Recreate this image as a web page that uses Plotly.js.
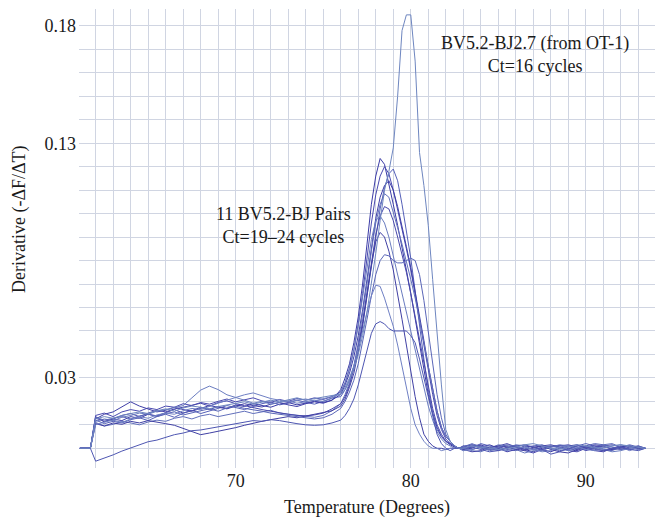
<!DOCTYPE html>
<html>
<head>
<meta charset="utf-8">
<script src="https://cdn.plot.ly/plotly-3.0.1.min.js"></script>
<style>html,body{margin:0;padding:0;background:#fff;}#chart{width:656px;height:518px;}</style>
</head>
<body>
<div id="chart"></div>
<script>
// Temperature samples (degrees)
const temps = [61.1, 61.7,
  62, 62.5, 63, 63.5, 64, 64.5, 65, 65.5, 66, 66.5, 67, 67.5, 68, 68.5, 69, 69.5,
  70, 70.5, 71, 71.5, 72, 72.5, 73, 73.5, 74, 74.5, 75, 75.5,
  76, 76.25, 76.5, 76.75, 77, 77.25, 77.5, 77.75, 78, 78.25, 78.5, 78.75,
  79, 79.25, 79.5, 79.75, 80, 80.25, 80.5, 80.75, 81, 81.25, 81.5, 81.75,
  82, 82.25, 82.5, 82.75,
  83, 83.5, 84, 84.5, 85, 85.5, 86, 86.5, 87, 87.5, 88, 88.5, 89, 89.5,
  90, 90.5, 91, 91.5, 92, 92.5, 93, 93.4];

// 11 BV5.2-BJ pairs
const pairA = [0, 0,
  0.0135, 0.0112, 0.0125, 0.0118, 0.0135, 0.0128, 0.0145, 0.0138, 0.0152, 0.0165, 0.0150, 0.0160, 0.0175, 0.0165, 0.0178, 0.0170, 0.0185, 0.0178, 0.0190, 0.0182, 0.0175, 0.0188, 0.0195, 0.0185, 0.0192, 0.0200, 0.0195, 0.0205,
  0.025, 0.030, 0.036, 0.045, 0.056, 0.070, 0.087, 0.104, 0.116, 0.1235, 0.121, 0.113, 0.104, 0.095, 0.086, 0.076, 0.066, 0.055, 0.044, 0.033, 0.023, 0.015, 0.009, 0.005, 0.003, 0.0015, 0.0005, 0.000,
  0.000, 0.001, 0.0015, 0.000, -0.001, 0.0005, 0.001, -0.0005, -0.0015, 0.000, 0.0008, 0.0012, 0.000, -0.001, 0.0005, 0.0015, 0.001, -0.0005, 0.000, 0.001, 0.0005, 0.000];
const pairB = [0, 0,
  0.0140, 0.0150, 0.0135, 0.0155, 0.0165, 0.0158, 0.0172, 0.0165, 0.0180, 0.0175, 0.0190, 0.0182, 0.0195, 0.0188, 0.0200, 0.0210, 0.0198, 0.0205, 0.0215, 0.0202, 0.0195, 0.0208, 0.0200, 0.0212, 0.0205, 0.0215, 0.0208, 0.0220,
  0.024, 0.028, 0.034, 0.042, 0.053, 0.066, 0.081, 0.096, 0.108, 0.116, 0.1200, 0.117, 0.110, 0.102, 0.094, 0.085, 0.076, 0.066, 0.055, 0.044, 0.033, 0.023, 0.014, 0.008, 0.004, 0.002, 0.001, 0.000,
  0.0005, 0.0015, 0.001, -0.0005, 0.000, 0.001, 0.0005, -0.001, -0.002, -0.0005, 0.0005, 0.001, 0.0015, 0.0005, -0.001, 0.000, 0.001, 0.0015, 0.0005, -0.0005, 0.000, 0.000];
const pairC = [0, 0,
  0.0120, 0.0105, 0.0115, 0.0108, 0.0122, 0.0130, 0.0118, 0.0135, 0.0145, 0.0132, 0.0150, 0.0162, 0.0148, 0.0158, 0.0170, 0.0182, 0.0172, 0.0165, 0.0178, 0.0190, 0.0198, 0.0185, 0.0192, 0.0205, 0.0196, 0.0188, 0.0200, 0.0215,
  0.022, 0.025, 0.029, 0.035, 0.043, 0.053, 0.065, 0.078, 0.091, 0.102, 0.111, 0.117, 0.119, 0.114, 0.104, 0.093, 0.081, 0.067, 0.052, 0.038, 0.025, 0.015, 0.008, 0.005, 0.003, 0.002, 0.001, 0.000,
  -0.001, 0.000, 0.002, 0.001, 0.0005, -0.0005, -0.001, 0.0005, 0.001, 0.0015, 0.000, -0.001, -0.0005, 0.001, 0.002, 0.001, -0.0005, -0.001, 0.0005, 0.0015, 0.0005, 0.000];
const pairD = [0, 0,
  0.0125, 0.0145, 0.0155, 0.0178, 0.0198, 0.0180, 0.0168, 0.0155, 0.0162, 0.0175, 0.0165, 0.0158, 0.0170, 0.0182, 0.0175, 0.0168, 0.0180, 0.0190, 0.0182, 0.0176, 0.0188, 0.0195, 0.0185, 0.0178, 0.0190, 0.0198, 0.0192, 0.0205,
  0.023, 0.027, 0.032, 0.039, 0.048, 0.059, 0.072, 0.086, 0.098, 0.107, 0.112, 0.114, 0.110, 0.103, 0.095, 0.086, 0.077, 0.067, 0.057, 0.046, 0.035, 0.025, 0.016, 0.009, 0.005, 0.003, 0.001, 0.000,
  0.001, -0.0005, 0.0005, 0.0015, 0.000, -0.0015, -0.0005, 0.001, 0.0005, -0.0005, -0.0015, 0.000, 0.001, 0.0015, 0.000, -0.001, -0.0015, 0.000, 0.001, 0.0005, -0.0005, 0.000];
const pairE = [0, 0,
  0.0110, 0.0095, 0.0102, 0.0115, 0.0108, 0.0100, 0.0112, 0.0120, 0.0115, 0.0128, 0.0135, 0.0125, 0.0138, 0.0145, 0.0135, 0.0142, 0.0150, 0.0158, 0.0148, 0.0155, 0.0162, 0.0150, 0.0145, 0.0140, 0.0135, 0.0132, 0.0140, 0.0160,
  0.019, 0.023, 0.028, 0.035, 0.045, 0.057, 0.070, 0.084, 0.096, 0.104, 0.1085, 0.107, 0.101, 0.094, 0.087, 0.080, 0.072, 0.064, 0.055, 0.045, 0.035, 0.025, 0.016, 0.009, 0.005, 0.003, 0.001, 0.000,
  0.0005, 0.002, 0.0005, -0.001, -0.0005, 0.000, 0.0015, 0.001, -0.0005, -0.001, 0.0005, 0.0015, 0.001, 0.000, -0.0005, 0.0005, 0.0015, 0.002, 0.0005, -0.001, 0.0005, 0.000];
const pairF = [0, 0,
  0.0128, 0.0115, 0.0125, 0.0140, 0.0148, 0.0135, 0.0150, 0.0162, 0.0155, 0.0168, 0.0175, 0.0185, 0.0192, 0.0180, 0.0195, 0.0202, 0.0190, 0.0182, 0.0172, 0.0165, 0.0158, 0.0150, 0.0145, 0.0140, 0.0138, 0.0142, 0.0150, 0.0168,
  0.019, 0.022, 0.027, 0.034, 0.043, 0.054, 0.067, 0.080, 0.091, 0.099, 0.103, 0.102, 0.097, 0.090, 0.083, 0.075, 0.066, 0.056, 0.046, 0.036, 0.026, 0.017, 0.010, 0.006, 0.003, 0.002, 0.001, 0.000,
  -0.0005, 0.0005, 0.001, 0.000, 0.001, 0.002, 0.0005, -0.0005, 0.000, 0.001, 0.0015, 0.0005, -0.001, -0.0015, 0.000, 0.001, 0.0005, 0.000, -0.0005, 0.0005, 0.001, 0.000];
const pairG = [0, 0,
  0.0115, 0.0125, 0.0118, 0.0132, 0.0140, 0.0150, 0.0145, 0.0158, 0.0165, 0.0175, 0.0182, 0.0215, 0.0248, 0.0265, 0.0250, 0.0228, 0.0218, 0.0205, 0.0192, 0.0200, 0.0188, 0.0195, 0.0202, 0.0192, 0.0198, 0.0205, 0.0200, 0.0212,
  0.024, 0.028, 0.034, 0.042, 0.052, 0.064, 0.077, 0.089, 0.097, 0.099, 0.096, 0.090, 0.082, 0.074, 0.066, 0.058, 0.050, 0.042, 0.034, 0.026, 0.018, 0.012, 0.007, 0.004, 0.002, 0.001, 0.000, 0.000,
  0.000, -0.001, -0.0015, 0.000, 0.0015, 0.001, -0.0005, -0.002, -0.001, 0.0005, 0.001, 0.000, -0.001, -0.0005, 0.001, 0.0005, -0.0005, -0.0015, -0.001, 0.000, 0.0005, 0.000];
const pairH = [0, 0,
  0.0105, 0.0095, 0.0108, 0.0102, 0.0115, 0.0108, 0.0118, 0.0110, 0.0105, 0.0098, 0.0085, 0.0072, 0.0058, 0.0065, 0.0072, 0.0080, 0.0088, 0.0098, 0.0108, 0.0115, 0.0122, 0.0128, 0.0135, 0.0130, 0.0138, 0.0145, 0.0152, 0.0160,
  0.018, 0.021, 0.026, 0.032, 0.041, 0.052, 0.065, 0.078, 0.088, 0.092, 0.090, 0.084, 0.076, 0.066, 0.055, 0.044, 0.033, 0.022, 0.013, 0.006, 0.003, 0.001, 0.000, 0.000, -0.0005, 0.000, 0.000, 0.000,
  -0.0005, -0.0015, -0.001, 0.0005, 0.001, 0.0005, -0.0005, -0.001, 0.0005, 0.001, -0.0005, -0.0015, -0.002, -0.0005, 0.0005, 0.000, -0.001, -0.0005, 0.0005, 0.001, 0.000, 0.000];
const pairI = [0, 0,
  0.0132, 0.0120, 0.0128, 0.0135, 0.0125, 0.0138, 0.0145, 0.0135, 0.0148, 0.0155, 0.0142, 0.0152, 0.0160, 0.0168, 0.0158, 0.0172, 0.0180, 0.0170, 0.0165, 0.0158, 0.0150, 0.0145, 0.0138, 0.0132, 0.0128, 0.0125, 0.0130, 0.0145,
  0.017, 0.020, 0.024, 0.029, 0.036, 0.045, 0.055, 0.065, 0.074, 0.080, 0.0825, 0.082, 0.080, 0.079, 0.079, 0.080, 0.081, 0.080, 0.074, 0.063, 0.050, 0.036, 0.023, 0.013, 0.006, 0.003, 0.001, 0.000,
  0.001, 0.0015, 0.000, -0.0005, 0.0005, 0.0015, 0.001, 0.000, -0.0005, 0.0005, 0.001, 0.0005, -0.0005, 0.000, 0.001, 0.002, 0.0015, 0.0005, -0.0005, 0.000, 0.001, 0.000];
const pairJ = [0, 0,
  0.0100, 0.0112, 0.0120, 0.0110, 0.0125, 0.0135, 0.0128, 0.0142, 0.0150, 0.0145, 0.0160, 0.0170, 0.0165, 0.0180, 0.0192, 0.0205, 0.0218, 0.0228, 0.0236, 0.0225, 0.0212, 0.0205, 0.0198, 0.0205, 0.0210, 0.0202, 0.0212, 0.0222,
  0.023, 0.026, 0.030, 0.035, 0.042, 0.050, 0.058, 0.065, 0.0695, 0.069, 0.064, 0.058, 0.052, 0.044, 0.035, 0.025, 0.017, 0.010, 0.006, 0.003, 0.001, 0.000, 0.000, -0.001, -0.0005, 0.000, 0.000, 0.000,
  -0.001, -0.0005, 0.0005, 0.001, -0.0005, -0.001, 0.000, 0.0005, -0.0005, -0.0015, -0.001, 0.0005, 0.001, 0.0005, -0.0005, -0.001, 0.000, 0.001, 0.0015, 0.0005, -0.0005, 0.000];
const pairK = [0, 0,
  -0.0055, -0.0042, -0.0028, -0.0012, 0.0002, 0.0015, 0.0028, 0.0035, 0.0048, 0.0058, 0.0065, 0.0075, 0.0078, 0.0085, 0.0090, 0.0098, 0.0105, 0.0112, 0.0118, 0.0115, 0.0122, 0.0118, 0.0110, 0.0105, 0.0100, 0.0098, 0.0100, 0.0108,
  0.012, 0.014, 0.017, 0.021, 0.027, 0.034, 0.042, 0.049, 0.053, 0.054, 0.053, 0.051, 0.050, 0.050, 0.050, 0.050, 0.048, 0.045, 0.038, 0.030, 0.022, 0.014, 0.006, 0.002, 0.000, -0.001, 0.000, 0.000,
  0.000, 0.0005, -0.0005, -0.0015, -0.001, 0.000, 0.001, 0.0015, 0.0005, -0.0005, -0.0025, -0.0015, 0.000, 0.001, 0.0005, -0.0005, -0.001, 0.000, 0.0005, -0.0005, -0.001, 0.000];
// BV5.2-BJ2.7 (from OT-1)
const ot1 = [0, 0,
  0.0125, 0.0135, 0.0128, 0.0140, 0.0148, 0.0155, 0.0148, 0.0160, 0.0168, 0.0158, 0.0172, 0.0180, 0.0175, 0.0168, 0.0178, 0.0185, 0.0192, 0.0198, 0.0188, 0.0195, 0.0205, 0.0198, 0.0208, 0.0215, 0.0205, 0.0212, 0.0220, 0.0225,
  0.023, 0.025, 0.029, 0.034, 0.040, 0.048, 0.058, 0.070, 0.083, 0.097, 0.110, 0.118, 0.128, 0.150, 0.178, 0.1847, 0.1847, 0.165, 0.126, 0.112, 0.095, 0.072, 0.049, 0.027, 0.008, 0.003, 0.001, 0.000,
  0.000, 0.001, 0.0005, 0.000, -0.0005, 0.000, 0.0005, 0.0015, 0.002, 0.001, 0.000, -0.0005, 0.0005, 0.0015, 0.001, 0.000, 0.0005, 0.001, 0.0015, 0.001, 0.0005, 0.000];

const seriesList = [pairA, pairB, pairC, pairD, pairE, pairF, pairG, pairH, pairI, pairJ, pairK, ot1];
const seriesColors = ['#3b3ba6', '#4a4ab0', '#5560b8', '#3f3fa8', '#6270bc', '#4848ac', '#6a7cc0', '#4040a4', '#5a66b8', '#6f80c4', '#4e56b2', '#6e86c0'];

const yTickVals = [0, 0.01, 0.02, 0.03, 0.04, 0.05, 0.06, 0.07, 0.08, 0.09, 0.10, 0.11, 0.12, 0.13, 0.14, 0.15, 0.16, 0.17, 0.18];
const yTickText = ['', '', '', '0.03', '', '', '', '', '', '', '', '', '', '0.13', '', '', '', '', '0.18'];
const xTickVals = [62, 63, 64, 65, 66, 67, 68, 69, 70, 71, 72, 73, 74, 75, 76, 77, 78, 79, 80, 81, 82, 83, 84, 85, 86, 87, 88, 89, 90, 91, 92, 93];
const xTickText = xTickVals.map(v => (v % 10 === 0 ? String(v) : ''));

const traces = seriesList.map((ys, i) => ({
  x: temps, y: ys, type: 'scatter', mode: 'lines',
  line: {color: seriesColors[i], width: 1},
  hoverinfo: 'skip', showlegend: false
}));

const font = {family: '"Liberation Serif", "Times New Roman", serif', size: 18, color: '#1a1a1a'};
const gridColor = '#d0d5e2';

const layout = {
  width: 656, height: 518,
  margin: {l: 79, r: 1, t: 9, b: 50},
  paper_bgcolor: '#ffffff', plot_bgcolor: '#ffffff',
  font: font,
  showlegend: false,
  xaxis: {
    range: [61.05, 93.95], tickmode: 'array', tickvals: xTickVals, ticktext: xTickText,
    showgrid: true, gridcolor: gridColor, gridwidth: 1, zeroline: false, showline: false,
    ticks: '', tickfont: font,
    title: {text: 'Temperature (Degrees)', font: font, standoff: 13}
  },
  yaxis: {
    range: [-0.0084, 0.1872], tickmode: 'array', tickvals: yTickVals, ticktext: yTickText,
    showgrid: true, gridcolor: gridColor, gridwidth: 1, zeroline: false, showline: false,
    ticks: '', tickfont: font, ticklabelstandoff: 2
  },
  annotations: [
    {xref: 'paper', yref: 'paper', x: -0.1024, y: 0.5425, text: 'Derivative (-ΔF/ΔT)', textangle: -90,
     showarrow: false, font: font, xanchor: 'center', yanchor: 'middle'},
    {xref: 'x', yref: 'y', x: 87.1, y: 0.168, text: 'BV5.2-BJ2.7 (from OT-1)<br>Ct=16 cycles',
     showarrow: false, font: font, align: 'center', xanchor: 'center', yanchor: 'middle'},
    {xref: 'x', yref: 'y', x: 72.71, y: 0.0948, text: '11 BV5.2-BJ Pairs<br>Ct=19–24 cycles',
     showarrow: false, font: font, align: 'center', xanchor: 'center', yanchor: 'middle'}
  ]
};

Plotly.newPlot('chart', traces, layout, {displayModeBar: false, staticPlot: true});
</script>
</body>
</html>
